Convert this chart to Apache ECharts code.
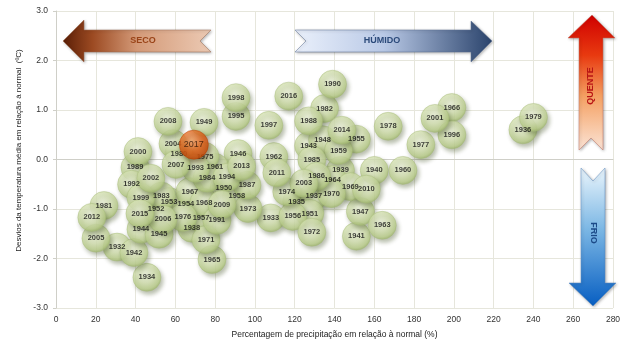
<!DOCTYPE html>
<html>
<head>
<meta charset="utf-8">
<script src="https://cdn.jsdelivr.net/npm/echarts@6/dist/echarts.min.js"></script>
<style>html,body{margin:0;padding:0;background:#fff}#c{width:632px;height:355px}</style>
</head>
<body>
<div id="c"></div>
<script>
var years = [1932,1933,1934,1935,1936,1937,1938,1939,1940,1941,1942,1943,1944,1945,1946,1947,1948,1949,1950,1951,1952,1953,1954,1955,1956,1957,1958,1959,1960,1961,1962,1963,1964,1965,1966,1967,1968,1969,1970,1971,1972,1973,1974,1975,1976,1977,1978,1979,1980,1981,1982,1983,1984,1985,1986,1987,1988,1989,1990,1991,1992,1993,1994,1995,1996,1997,1998,1999,2000,2001,2002,2003,2004,2005,2006,2007,2008,2009,2010,2011,2012,2013,2014,2015,2016];
var precip = [30.7,108,45.7,121,234.7,129.6,68.3,143,160,151,39.2,127,42.7,51.8,91.5,153,134,74.4,84.4,127.6,50.3,56.8,65.3,151,119,72.9,90.9,142,174.4,79.9,109.5,164,139,78.4,199,67.3,74.4,148,138.5,75.4,128.6,96.5,116,74.9,63.8,183.4,167,240,61.8,24.1,135,53,75.9,128.6,131,96,127,39.7,139,80.9,38,70.2,85.9,90.5,199,107,90.5,42.7,41.2,190.5,47.7,124.6,58.8,20.1,53.8,60.3,56.3,83.4,156,111,18,93.3,143.7,42.2,117];
var tempDev = [-1.77,-1.18,-2.38,-0.85,0.60,-0.74,-1.39,-0.22,-0.22,-1.55,-1.88,0.28,-1.41,-1.51,0.12,-1.05,0.40,0.75,-0.58,-1.09,-0.99,-0.85,-0.89,0.41,-1.15,-1.19,-0.74,0.18,-0.22,-0.16,0.06,-1.33,-0.41,-2.02,1.05,-0.65,-0.87,-0.55,-0.69,-1.62,-1.47,-0.99,-0.65,0.06,-1.17,0.30,0.67,0.85,0.12,-0.93,1.03,-0.74,-0.38,-0.01,-0.34,-0.52,0.78,-0.16,1.52,-1.23,-0.50,-0.18,-0.36,0.87,0.50,0.69,1.25,-0.77,0.16,0.83,-0.38,-0.48,0.32,-1.59,-1.21,-0.10,0.77,-0.91,-0.60,-0.27,-1.17,-0.14,0.59,-1.09,1.28];
var highlightYear = [2017];
var highlightPrecip = [69.3];
var highlightTemp = [0.30];
var xTicks = {min:0, max:280, interval:20};
var yTicks = {min:-3, max:3, interval:1};

var mainData = years.map(function(y,i){return [precip[i], tempDev[i], y];});
var hiData = highlightYear.map(function(y,i){return [highlightPrecip[i], highlightTemp[i], y];});

var chart = echarts.init(document.getElementById('c'), null, {renderer:'canvas'});
var labelFont = {show:true, position:'inside', formatter:function(p){return p.value[2];}, fontSize:7.5, fontWeight:'bold', color:'#111', fontFamily:'"Liberation Sans Narrow","Liberation Sans",Arial,sans-serif'};

function arrowGrad(x0,y0,x1,y1,stops){return new echarts.graphic.LinearGradient(x0,y0,x1,y1,stops);}

chart.setOption({
  animation:false,
  backgroundColor:'#ffffff',
  grid:{left:56,right:19,top:11,bottom:47},
  xAxis:{
    type:'value', min:xTicks.min, max:xTicks.max, interval:xTicks.interval,
    name:'Percentagem de precipitação em relação à normal (%)',
    nameLocation:'middle', nameGap:22,
    nameTextStyle:{fontSize:8.5, color:'#222', fontFamily:'"Liberation Sans",Arial,sans-serif'},
    axisLine:{show:true, lineStyle:{color:'#cfcfc8'}},
    axisTick:{show:false},
    axisLabel:{fontSize:8.5, color:'#333', margin:7, fontFamily:'"Liberation Sans",Arial,sans-serif'},
    splitLine:{show:true, lineStyle:{color:'#e6e6dc', width:1}}
  },
  yAxis:{
    type:'value', min:yTicks.min, max:yTicks.max, interval:yTicks.interval,
    name:'Desvios da temperatura média em relação à normal  (ºC)',
    nameLocation:'middle', nameGap:31,
    nameTextStyle:{fontSize:8, color:'#222', fontFamily:'"Liberation Sans",Arial,sans-serif', padding:[0,0,0,18]},
    axisLine:{show:true, lineStyle:{color:'#cfcfc8'}},
    axisTick:{show:true, length:3, lineStyle:{color:'#cfcfc8'}},
    axisLabel:{fontSize:8.5, color:'#333', margin:8, formatter:function(v){return v.toFixed(1);}, fontFamily:'"Liberation Sans",Arial,sans-serif'},
    splitLine:{show:true, lineStyle:{color:'#e6e6dc', width:1}}
  },
  series:[
    {
      type:'scatter', data:mainData, symbolSize:28, z:3,
      itemStyle:{
        color:{type:'radial', x:0.45, y:0.38, r:0.62, colorStops:[
          {offset:0,color:'#eef4dc'},{offset:0.5,color:'#d8e4b6'},{offset:0.85,color:'#bdd08e'},{offset:1,color:'#a2b870'}]},
        borderColor:'#a5b978', borderWidth:0.5,
        shadowBlur:4, shadowColor:'rgba(60,75,30,0.45)', shadowOffsetX:2, shadowOffsetY:3
      },
      label:labelFont,
      emphasis:{disabled:true}
    },
    {
      type:'scatter', data:hiData, symbolSize:29, z:4,
      itemStyle:{
        color:{type:'radial', x:0.42, y:0.35, r:0.7, colorStops:[
          {offset:0,color:'#f9a868'},{offset:0.55,color:'#e8661c'},{offset:1,color:'#c24300'}]},
        borderColor:'#b84000', borderWidth:0.6,
        shadowBlur:4, shadowColor:'rgba(60,30,0,0.55)', shadowOffsetX:2, shadowOffsetY:3
      },
      label:Object.assign({}, labelFont, {fontSize:9, fontWeight:'normal', color:'#2a1000', fontFamily:'"Liberation Sans",Arial,sans-serif'}),
      emphasis:{disabled:true}
    }
  ],
  graphic:[
    {type:'polygon', z:10, shape:{points:[[63,41],[84,20],[84,30],[211,30],[200,41],[211,52],[84,52],[84,62]]},
      style:{fill:arrowGrad(0,0,1,0,[{offset:0,color:'#5a1e06'},{offset:0.2,color:'#9c4a22'},{offset:0.5,color:'#d49a78'},{offset:1,color:'#eccab4'}]), stroke:'#9a6a50', lineWidth:0.5, shadowBlur:3, shadowColor:'rgba(0,0,0,0.3)', shadowOffsetX:1, shadowOffsetY:1}},
    {type:'text', z:11, style:{text:'SECO', x:143, y:41, align:'center', verticalAlign:'middle', fill:'#9a4418', font:'bold 9px "Liberation Sans",Arial,sans-serif'}},
    {type:'polygon', z:10, shape:{points:[[295,30],[471,30],[471,21],[492,41],[471,62],[471,52],[295,52],[306,41]]},
      style:{fill:arrowGrad(0,0,1,0,[{offset:0,color:'#eaf0fb'},{offset:0.45,color:'#b9c9e6'},{offset:1,color:'#2a436c'}]), stroke:'#5a6f90', lineWidth:0.5, shadowBlur:3, shadowColor:'rgba(0,0,0,0.3)', shadowOffsetX:1, shadowOffsetY:1}},
    {type:'text', z:11, style:{text:'HÚMIDO', x:382, y:41, align:'center', verticalAlign:'middle', fill:'#2b4a7a', font:'bold 9px "Liberation Sans",Arial,sans-serif'}},
    {type:'polygon', z:10, shape:{points:[[592,15],[615,38],[603,38],[603,150],[591,138],[579,150],[579,38],[568,38]]},
      style:{fill:arrowGrad(0,0,0,1,[{offset:0,color:'#d00000'},{offset:0.3,color:'#e83a10'},{offset:0.6,color:'#f4a062'},{offset:1,color:'#fbe4d6'}]), stroke:'#c07060', lineWidth:0.5, shadowBlur:3, shadowColor:'rgba(0,0,0,0.3)', shadowOffsetX:1, shadowOffsetY:1}},
    {type:'text', z:11, x:591, y:86, rotation:Math.PI/2, style:{text:'QUENTE', x:0, y:0, align:'center', verticalAlign:'middle', fill:'#b81515', font:'bold 9px "Liberation Sans",Arial,sans-serif'}},
    {type:'polygon', z:10, shape:{points:[[581,168],[593,181],[605,168],[605,283],[616,283],[593,306],[569,283],[581,283]]},
      style:{fill:arrowGrad(0,0,0,1,[{offset:0,color:'#eaf5fc'},{offset:0.45,color:'#7ab6e4'},{offset:1,color:'#075ec2'}]), stroke:'#5a8ac0', lineWidth:0.5, shadowBlur:3, shadowColor:'rgba(0,0,0,0.3)', shadowOffsetX:1, shadowOffsetY:1}},
    {type:'text', z:11, x:593, y:233, rotation:-Math.PI/2, style:{text:'FRIO', x:0, y:0, align:'center', verticalAlign:'middle', fill:'#1c4a88', font:'bold 9px "Liberation Sans",Arial,sans-serif'}}
  ]
});
</script>
</body>
</html>
